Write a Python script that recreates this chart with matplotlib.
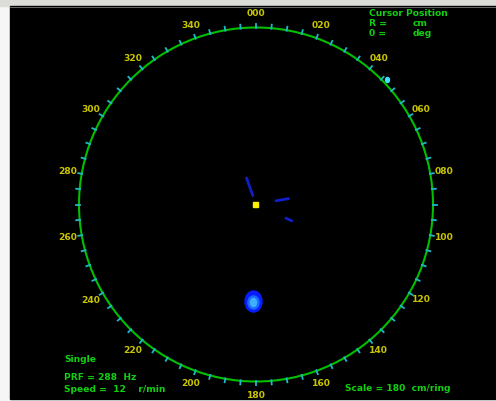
import numpy as np
import matplotlib
matplotlib.use("Agg")
import matplotlib.pyplot as plt
from matplotlib.patches import Circle, Ellipse, Rectangle

# ── Display geometry (pixels)
W, H = 496, 401
CX, CY, R = 256, 204.5, 177
LABEL_R = 191

# ── Data
bearing_labels = ["000", "020", "040", "060", "080", "100", "120", "140", "160",
                  "180", "200", "220", "240", "260", "280", "300", "320", "340"]
bearing_deg = [0, 20, 40, 60, 80, 100, 120, 140, 160,
               180, 200, 220, 240, 260, 280, 300, 320, 340]
tick_deg = np.arange(0, 360, 5)

# streak echoes: (x0, y0, x1, y1) in screen pixels
streak_x0 = [246.5, 276.0, 286.0]
streak_y0 = [178.0, 200.8, 218.2]
streak_x1 = [252.8, 288.5, 291.8]
streak_y1 = [195.5, 198.6, 220.8]

blob_x, blob_y = 253.5, 301.5
target_x, target_y = 255.7, 204.3

info_lines = ["Single", "PRF = 288  Hz", "Speed =  12    r/min"]
info_y = [360, 378, 389]

GREEN = "#11d011"
YELLOW = "#c8c400"
CYAN = "#1fb8c8"


def polar(deg, r):
    t = np.radians(deg)
    return CX + r * np.sin(t), CY - r * np.cos(t)


fig = plt.figure(figsize=(W / 100, H / 100), dpi=100)
fig.patch.set_facecolor("#f6f6f6")
ax = fig.add_axes([0, 0, 1, 1])
ax.set_xlim(0, W)
ax.set_ylim(H, 0)
ax.axis("off")

# window chrome + black scope area
ax.add_patch(Rectangle((0, 0), W, 6, color="#dcdcd8", zorder=0))
ax.add_patch(Rectangle((10, 6), W - 10, 393, color="black", zorder=1))
ax.plot([10, 495], [6.5, 6.5], color="#777777", lw=0.6, zorder=2)

# range ring
ax.add_patch(Circle((CX, CY), R, fill=False, ec="#00c000", lw=1.5, zorder=3))

# bearing ticks (short, outside the ring)
for d in tick_deg:
    x0, y0 = polar(d, R - 0.5)
    x1, y1 = polar(d, R + 3.5)
    ax.plot([x0, x1], [y0, y1], color=CYAN, lw=1.3, zorder=4)

# bearing labels
for lab, d in zip(bearing_labels, bearing_deg):
    x, y = polar(d, LABEL_R)
    ax.text(x, y, lab, color=YELLOW, fontsize=6.6, fontweight="bold",
            ha="center", va="center", zorder=5)

# echoes
for x0, y0, x1, y1 in zip(streak_x0, streak_y0, streak_x1, streak_y1):
    ax.plot([x0, x1], [y0, y1], color="#1020c8", lw=2.0,
            solid_capstyle="round", zorder=6)
ax.add_patch(Ellipse((blob_x, blob_y), 17, 21, color="#0a1cff", zorder=6))
ax.add_patch(Ellipse((blob_x, blob_y + 1), 11, 13, color="#1a6cff", zorder=7))
ax.add_patch(Ellipse((blob_x, blob_y + 1), 6, 8, color="#3fb0ff", zorder=8))
ax.add_patch(Ellipse((387.5, 80), 4, 5, color="#40e0ff", zorder=6))
ax.add_patch(Rectangle((target_x - 2.5, target_y - 2.5), 5, 5,
                       color="#ffee00", zorder=9))

# cursor readout
txt = dict(color=GREEN, fontsize=6.6, fontweight="bold", va="center", zorder=10)
ax.text(369, 14, "Cursor Position", **txt)
ax.text(369, 24, "R =", **txt)
ax.text(413, 24, "cm", **txt)
ax.text(369, 33, "0 =", **txt)
ax.text(413, 33, "deg", **txt)

# status text
for s, y in zip(info_lines, info_y):
    ax.text(64, y, s, **txt)
ax.text(345, 388.5, "Scale = 180  cm/ring", **txt)

fig.savefig("out.png", dpi=100, facecolor=fig.get_facecolor())
